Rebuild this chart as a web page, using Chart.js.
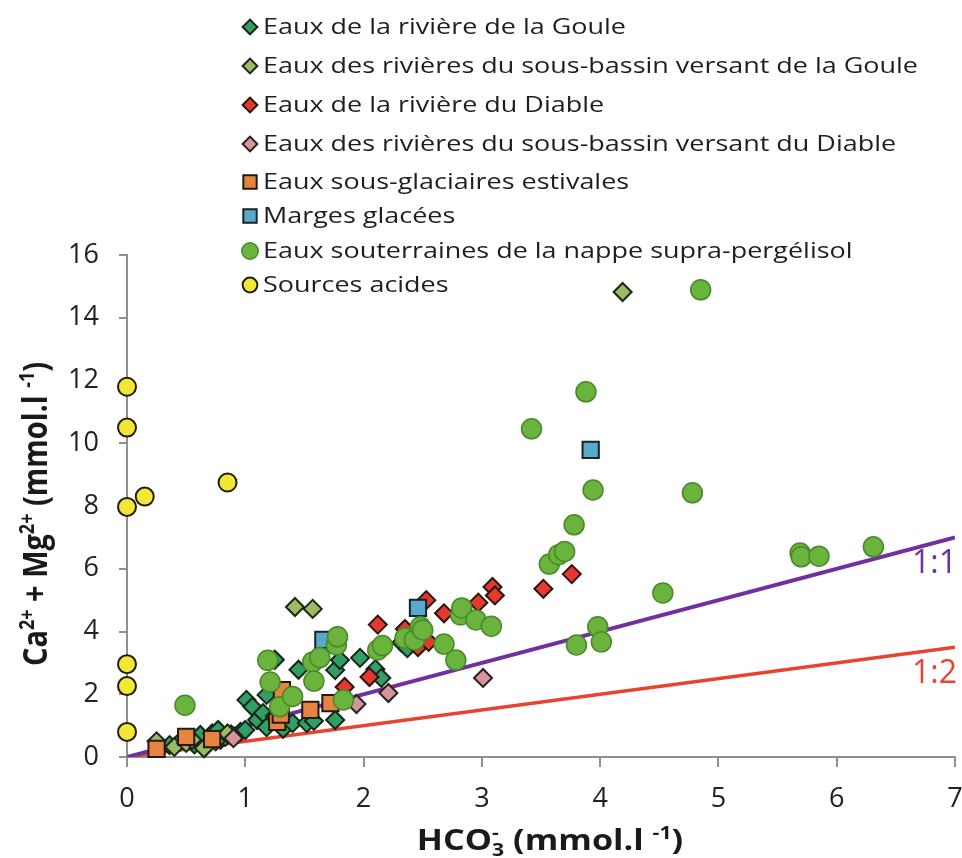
<!DOCTYPE html>
<html>
<head>
<meta charset="utf-8">
<script src="https://cdn.jsdelivr.net/npm/chart.js@4.4.1/dist/chart.umd.min.js"></script>
<style>
  html, body { margin: 0; padding: 0; background: #fff; }
  #wrap { width: 962px; height: 858px; }
</style>
</head>
<body>
<div id="wrap"><canvas id="chart" width="962" height="858"></canvas></div>
<script>
// HCO3- (x) vs Ca2+ + Mg2+ (y), mmol/l
const seriesNames = [
  "Eaux de la rivière de la Goule",
  "Eaux des rivières du sous-bassin versant de la Goule",
  "Eaux de la rivière du Diable",
  "Eaux des rivières du sous-bassin versant du Diable",
  "Eaux sous-glaciaires estivales",
  "Marges glacées",
  "Eaux souterraines de la nappe supra-pergélisol",
  "Sources acides"
];

const gouleX = [0.36, 0.45, 0.57, 0.62, 0.67, 0.72, 0.77, 0.79, 0.83, 0.88, 0.96, 1.0, 1.01, 1.06, 1.1, 1.15, 1.18, 1.18, 1.25, 1.25, 1.32, 1.4, 1.45, 1.52, 1.58, 1.76, 1.76, 1.8, 1.97, 2.1, 2.15, 2.32, 2.37];
const gouleY = [0.38, 0.5, 0.4, 0.7, 0.35, 0.75, 0.86, 0.55, 0.64, 0.72, 0.8, 0.86, 1.82, 1.6, 1.18, 1.4, 0.95, 1.98, 3.1, 1.3, 0.9, 1.08, 2.78, 1.08, 1.15, 1.18, 2.77, 3.09, 3.16, 2.8, 2.52, 3.65, 3.47];

const gouleBasinX = [0.25, 0.4, 0.5, 0.55, 0.65, 0.75, 0.85, 1.42, 1.57, 4.19];
const gouleBasinY = [0.5, 0.32, 0.45, 0.55, 0.28, 0.5, 0.75, 4.78, 4.72, 14.82];

const diableX = [1.84, 2.05, 2.12, 2.35, 2.46, 2.53, 2.55, 2.68, 2.97, 3.09, 3.11, 3.52, 3.76];
const diableY = [2.23, 2.55, 4.22, 4.08, 3.5, 5.0, 3.67, 4.58, 4.92, 5.42, 5.15, 5.36, 5.83];

const diableBasinX = [0.9, 1.94, 2.21, 3.01];
const diableBasinY = [0.6, 1.69, 2.04, 2.52];

const subGlacialX = [0.25, 0.5, 0.72, 1.27, 1.3, 1.31, 1.55, 1.72];
const subGlacialY = [0.26, 0.64, 0.57, 1.12, 1.35, 2.13, 1.5, 1.72];

const margesX = [1.66, 2.46, 3.92];
const margesY = [3.73, 4.75, 9.79];

const groundX = [0.49, 1.19, 1.21, 1.29, 1.4, 1.57, 1.63, 1.58, 1.77, 1.78, 1.83, 2.12, 2.16, 2.35, 2.43, 2.48, 2.5, 2.68, 2.78, 2.82, 2.83, 2.95, 3.08, 3.42, 3.57, 3.65, 3.7, 3.78, 3.8, 3.88, 3.94, 3.98, 4.01, 4.53, 4.78, 4.85, 5.69, 5.7, 5.85, 6.31];
const groundY = [1.65, 3.08, 2.39, 1.6, 1.93, 3.03, 3.17, 2.42, 3.57, 3.83, 1.82, 3.41, 3.55, 3.79, 3.73, 4.15, 4.05, 3.6, 3.09, 4.53, 4.75, 4.37, 4.17, 10.46, 6.15, 6.45, 6.55, 7.4, 3.57, 11.64, 8.51, 4.15, 3.67, 5.23, 8.42, 14.89, 6.5, 6.38, 6.4, 6.7];

const acidX = [0, 0, 0, 0, 0, 0, 0.15, 0.85];
const acidY = [11.8, 10.5, 7.97, 2.96, 2.26, 0.8, 8.3, 8.75];

// reference lines 1:1 and 1:2
const ratioX = [0, 7];
const ratio11Y = [0, 7];
const ratio12Y = [0, 3.5];
const ratioLabels = ["1:1", "1:2"];

const xTicks = [0, 1, 2, 3, 4, 5, 6, 7];
const yTicks = [0, 2, 4, 6, 8, 10, 12, 14, 16];

function pts(xs, ys) {
  return xs.map((x, i) => ({ x: x, y: ys[i] }));
}

const styles = [
  { xs: gouleX, ys: gouleY, shape: "rectRot", fill: "#2f9f63", edge: "#17241a", r: 9, bw: 2 },
  { xs: gouleBasinX, ys: gouleBasinY, shape: "rectRot", fill: "#98bb64", edge: "#1e2618", r: 9, bw: 2 },
  { xs: diableX, ys: diableY, shape: "rectRot", fill: "#e5392e", edge: "#2a1410", r: 9, bw: 2 },
  { xs: diableBasinX, ys: diableBasinY, shape: "rectRot", fill: "#d5959a", edge: "#2a2020", r: 9, bw: 2 },
  { xs: subGlacialX, ys: subGlacialY, shape: "rect", fill: "#e6843f", edge: "#231a14", r: 11.5, bw: 2 },
  { xs: margesX, ys: margesY, shape: "rect", fill: "#5aa9cb", edge: "#15232a", r: 11.5, bw: 2 },
  { xs: groundX, ys: groundY, shape: "circle", fill: "#6ab33d", edge: "#4a882a", r: 10, bw: 1.5 },
  { xs: acidX, ys: acidY, shape: "circle", fill: "#f3e634", edge: "#1e1e10", r: 9, bw: 2 }
];

const datasets = styles.map((s, i) => ({
  label: seriesNames[i],
  data: pts(s.xs, s.ys),
  pointStyle: s.shape,
  pointRadius: s.r,
  pointHoverRadius: s.r,
  pointBackgroundColor: s.fill,
  pointBorderColor: s.edge,
  pointBorderWidth: s.bw,
  showLine: false,
  clip: false,
  order: styles.length - i,
  isMarker: true
}));

datasets.push({
  label: ratioLabels[0],
  data: pts(ratioX, ratio11Y),
  showLine: true,
  borderColor: "#7030a0",
  borderWidth: 4,
  pointRadius: 0,
  order: 20
});
datasets.push({
  label: ratioLabels[1],
  data: pts(ratioX, ratio12Y),
  showLine: true,
  borderColor: "#e8432e",
  borderWidth: 3.5,
  pointRadius: 0,
  order: 21
});

const FONT = '"Open Sans", "DejaVu Sans", sans-serif';
const TEXT_STRETCH = 1.18; // the figure's lettering is wider than tall

// legend block drawn on the canvas, over the top of the plot
const legendRows = [27, 66, 105, 144, 182, 216, 251, 285];
const legendPlugin = {
  id: "legendBlock",
  afterDraw(chart) {
    const ctx = chart.ctx;
    ctx.save();
    ctx.font = "22px " + FONT;
    const longest = Math.max(...seriesNames.map(n => ctx.measureText(n).width));
    const stretch = 655 / longest;
    chart.data.datasets.forEach((ds, i) => {
      if (!ds.isMarker) return;
      const y = legendRows[i];
      ctx.fillStyle = ds.pointBackgroundColor;
      ctx.strokeStyle = ds.pointBorderColor;
      ctx.lineWidth = ds.pointBorderWidth;
      Chart.helpers.drawPoint(ctx, {
        pointStyle: ds.pointStyle,
        radius: ds.pointRadius * 0.82,
        borderWidth: ds.pointBorderWidth,
        rotation: 0
      }, 250, y);
      ctx.save();
      ctx.translate(263, y);
      ctx.scale(stretch, 1);
      ctx.fillStyle = "#1e1e1e";
      ctx.textBaseline = "middle";
      ctx.fillText(ds.label, 0, 1);
      ctx.restore();
    });
    ctx.restore();
  }
};

// "1:1" / "1:2" labels under the right end of each line
const ratioLabelPlugin = {
  id: "ratioLabels",
  afterDatasetsDraw(chart) {
    const ctx = chart.ctx;
    const xs = chart.scales.x, ys = chart.scales.y;
    const ends = [ratio11Y[1], ratio12Y[1]];
    const colors = ["#7030a0", "#e8432e"];
    ctx.save();
    ctx.font = "32px " + FONT;
    ctx.textAlign = "right";
    ctx.textBaseline = "middle";
    ends.forEach((v, i) => {
      ctx.fillStyle = colors[i];
      ctx.fillText(ratioLabels[i], xs.getPixelForValue(ratioX[1]) + 2, ys.getPixelForValue(v) + 27);
    });
    ctx.restore();
  }
};

// axis titles with superscripts / subscripts
function drawRich(ctx, segs, cx, cy, size, angle) {
  ctx.save();
  ctx.translate(cx, cy);
  ctx.scale(TEXT_STRETCH, 1);
  ctx.rotate(angle);
  let end = 0, prevStart = 0;
  const placed = [];
  segs.forEach(s => {
    const fs = (s.sup || s.sub) ? size * 0.62 : size;
    ctx.font = "bold " + fs + "px " + FONT;
    const w = ctx.measureText(s.t).width;
    const start = s.stack ? prevStart : end;
    placed.push({ t: s.t, fs: fs, x: start, dy: s.sup ? -size * 0.4 : (s.sub ? size * 0.2 : 0) });
    prevStart = start;
    end = Math.max(end, start + w);
  });
  ctx.fillStyle = "#1a1a1a";
  ctx.textBaseline = "alphabetic";
  placed.forEach(p => {
    ctx.font = "bold " + p.fs + "px " + FONT;
    ctx.fillText(p.t, p.x - end / 2, p.dy + size * 0.36);
  });
  ctx.restore();
}

const titlePlugin = {
  id: "axisTitles",
  afterDraw(chart) {
    const a = chart.chartArea;
    drawRich(chart.ctx, [
      { t: "HCO" }, { t: "3", sub: true }, { t: "-", sup: true, stack: true },
      { t: " (mmol.l " }, { t: "-1", sup: true }, { t: ")" }
    ], (a.left + a.right) / 2 + 9, 840, 29, 0);
    drawRich(chart.ctx, [
      { t: "Ca" }, { t: "2+", sup: true }, { t: " + Mg" }, { t: "2+", sup: true },
      { t: " (mmol.l " }, { t: "-1", sup: true }, { t: ")" }
    ], 35, (a.top + a.bottom) / 2 + 8, 29, -Math.PI / 2);
  }
};

new Chart(document.getElementById("chart"), {
  type: "scatter",
  data: { datasets: datasets },
  options: {
    responsive: false,
    animation: false,
    devicePixelRatio: 1,
    layout: { autoPadding: false, padding: { top: 255, right: 7, left: 0, bottom: 0 } },
    plugins: {
      legend: { display: false },
      tooltip: { enabled: false }
    },
    scales: {
      x: {
        type: "linear",
        min: xTicks[0],
        max: xTicks[xTicks.length - 1],
        afterBuildTicks: s => { s.ticks = xTicks.map(v => ({ value: v })); },
        afterFit: s => { s.height = 101; s.paddingLeft = 0; s.paddingRight = 0; },
        ticks: { font: { family: FONT, size: 27 }, color: "#222", padding: 16, maxRotation: 0 },
        grid: { drawOnChartArea: false, drawTicks: true, tickLength: 10, color: "#8f8f8f", lineWidth: 2 },
        border: { color: "#8f8f8f", width: 2 },
        title: { display: false }
      },
      y: {
        type: "linear",
        min: yTicks[0],
        max: yTicks[yTicks.length - 1],
        afterBuildTicks: s => { s.ticks = yTicks.map(v => ({ value: v })); },
        afterFit: s => { s.width = 127; s.paddingTop = 0; s.paddingBottom = 0; },
        ticks: { font: { family: FONT, size: 27 }, color: "#222", padding: 20 },
        grid: { drawOnChartArea: false, drawTicks: true, tickLength: 8, color: "#8f8f8f", lineWidth: 2 },
        border: { color: "#8f8f8f", width: 2 },
        title: { display: false }
      }
    }
  },
  plugins: [legendPlugin, ratioLabelPlugin, titlePlugin]
});
</script>
</body>
</html>
